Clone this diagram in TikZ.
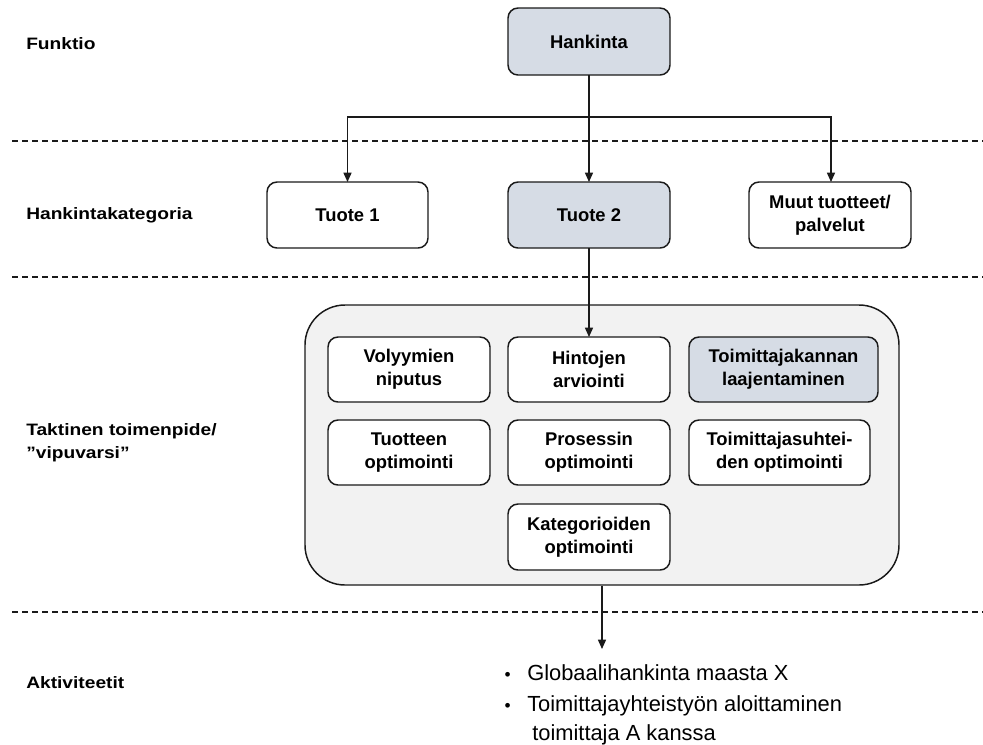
\documentclass[tikz,border=0pt]{standalone}
\usepackage{fontspec}
\setmainfont{Liberation Sans}
\newfontfamily\rowfont[FakeStretch=1.16]{Liberation Sans}
\usetikzlibrary{arrows.meta}
\definecolor{boxblue}{HTML}{D6DCE5}
\definecolor{panelgray}{HTML}{F2F2F2}
\definecolor{ink}{HTML}{1A1A1A}
\newcommand{\actbullet}{\makebox[18pt][l]{\hspace*{1pt}{\fontsize{13}{13}\selectfont•}}}

\begin{document}
\begin{tikzpicture}[x=0.75pt,y=-0.75pt,
  box/.style={draw=ink, line width=1.1pt, rounded corners=7.5pt, fill=white,
    align=center, inner sep=0pt, outer sep=0pt,
    font=\fontsize{13.8}{17.25}\selectfont\bfseries,
    minimum width=121.5pt, minimum height=49.5pt},
  hl/.style={fill=boxblue},
  rowlabel/.style={anchor=west, align=left, inner sep=0pt,
    font=\rowfont\fontsize{12.4}{17.25}\selectfont\bfseries},
  sep/.style={draw=ink, line width=0.9pt, dash pattern=on 4.5pt off 3pt},
  link/.style={draw=ink, line width=1.1pt},
  arr/.style={link, -{Triangle[width=6pt,length=7pt]}},
  act/.style={anchor=base west, inner sep=0pt, font=\fontsize{16.4}{24}\selectfont}]

\useasboundingbox (0,0) rectangle (983,744);

% row separators
\coordinate (sepL1) at (12,141);  \coordinate (sepR1) at (983,141);
\coordinate (sepL2) at (12,277);  \coordinate (sepR2) at (983,277);
\coordinate (sepL3) at (12,612);  \coordinate (sepR3) at (983,612);
\draw[sep] (sepL1) -- (sepR1);
\draw[sep] (sepL2) -- (sepR2);
\draw[sep] (sepL3) -- (sepR3);

% row labels
\node[rowlabel] (lblF) at (26,44) {Funktio};
\node[rowlabel] (lblH) at (26,215) {Hankintakategoria};
\node[rowlabel] (lblT) at (26,443) {Taktinen toimenpide/\\”vipuvarsi”};
\node[rowlabel] (lblA) at (26,683) {Aktiviteetit};

% function
\node[box, hl, minimum height=50.25pt] (hank) at (589,41.5) {Hankinta};

% categories
\node[box, minimum width=120.75pt] (t1) at (347.5,215) {Tuote 1};
\node[box, hl] (t2) at (589,215) {Tuote 2};
\node[box] (t3) at (830,215) {Muut tuotteet/\\palvelut};

% levers panel
\node[draw=ink, line width=1.1pt, fill=panelgray, rounded corners=30pt,
      inner sep=0pt, minimum width=445.5pt, minimum height=210pt] (panel) at (602,445) {};

\node[box, minimum height=48.75pt] (v1) at (409,369.5) {Volyymien\\niputus};
\node[box, minimum height=48.75pt] (v2) at (589,369.5) {Hintojen\\arviointi};
\node[box, hl, minimum height=48.75pt, minimum width=141.75pt] (v3) at (783.5,369.5) {Toimittajakannan\\laajentaminen};
\node[box, minimum height=48.75pt] (v4) at (409,452.5) {Tuotteen\\optimointi};
\node[box, minimum height=48.75pt] (v5) at (589,452.5) {Prosessin\\optimointi};
\node[box, minimum height=48.75pt, minimum width=135.75pt] (v6) at (779.5,452.5) {Toimittajasuhtei-\\den optimointi};
\node[box] (v7) at (589,537) {Kategorioiden\\optimointi};

% connectors
\coordinate (bus) at (589,117);
\draw[link] (hank.south) -- (bus);
\draw[arr] (bus) -| (t1.north);
\draw[arr] (bus) -- (t2.north);
\draw[arr] ([xshift=0.75pt]bus) -| ([xshift=0.75pt]t3.north);
\draw[arr] (t2.south) -- (v2.north);
\coordinate (acttip) at (602,649);
\draw[arr] (panel.south) -- (acttip);

% activities
\node[act] (act1) at (503,680) {\actbullet Globaalihankinta maasta X};
\node[act] (act2) at (503,711) {\actbullet Toimittajayhteistyön aloittaminen};
\node[act] (act3) at (503,740) {\hspace*{21.75pt}toimittaja A kanssa};

\end{tikzpicture}
\end{document}
